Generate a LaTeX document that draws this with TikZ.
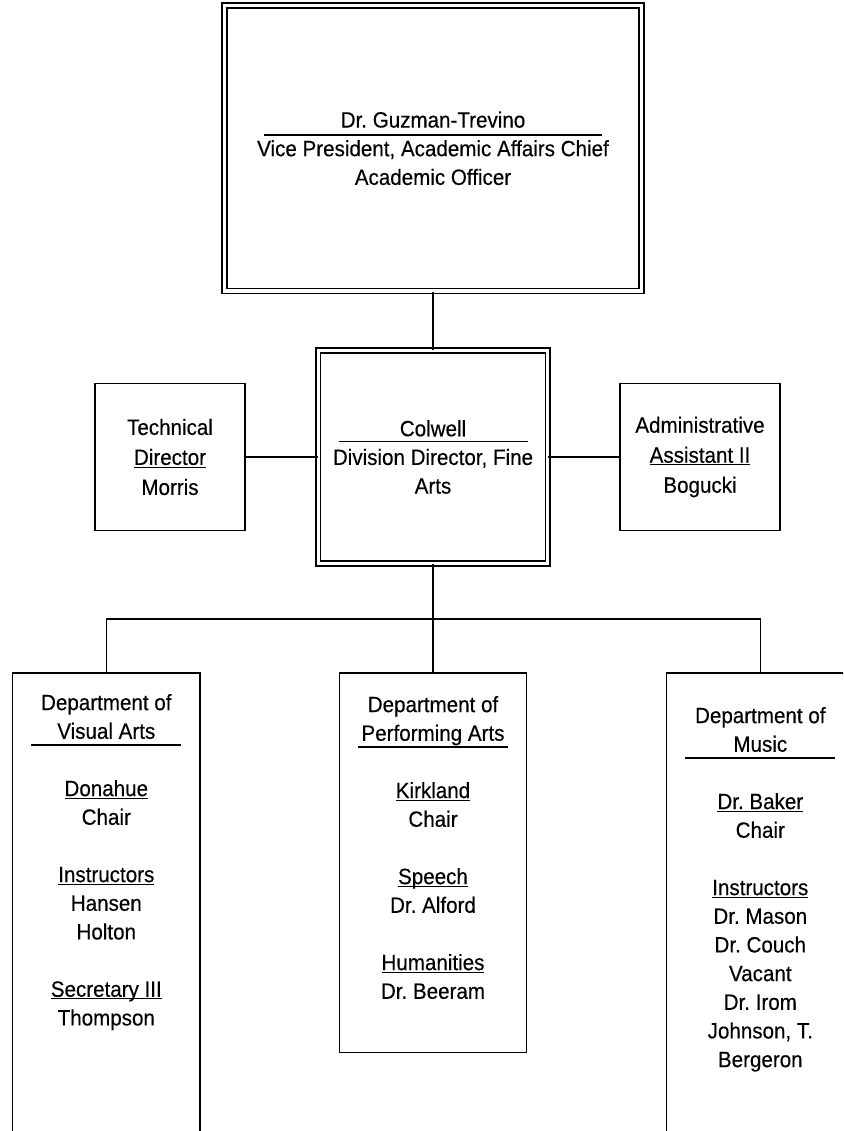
\documentclass[tikz,border=0pt]{standalone}
\usepackage{fontspec}
\setmainfont{Liberation Sans}[FakeStretch=0.93, FakeBold=0.3]
\usepackage{tikz}
\usetikzlibrary{positioning,calc}
\frenchspacing

\newcommand{\ulname}[1]{\setbox0\hbox{#1}\rlap{\rule[-2pt]{\wd0}{0.8pt}}\box0}

\begin{document}
\begin{tikzpicture}[x=0.75pt, y=-0.75pt,
    box/.style={draw, line width=1.1pt, inner sep=0pt},
    dbox/.style={box, double, double distance=2.6pt},
    txt/.style={align=center, font=\fontsize{16.6pt}{21.5pt}\selectfont},
    sidetxt/.style={align=center, font=\fontsize{16.6pt}{22.5pt}\selectfont},
    depttxt/.style={align=center, inner sep=0pt, font=\fontsize{16.6pt}{21.5pt}\selectfont},
    sep/.style={line width=1.1pt}]
    \useasboundingbox (0,0) rectangle (843,1131);
    \clip (0,0) rectangle (843,1131);

    % Vice president
    \node[dbox, txt, minimum width=312.5pt, minimum height=214pt] (vp) at (433,148.3)
        {Dr. Guzman-Trevino\\Vice President, Academic Affairs Chief\\Academic Officer};
    \draw[sep] ([shift={(-169,-13.3)}]vp.center) -- ++(338,0);

    % Division director and staff
    \node[dbox, txt, minimum width=172.1pt, minimum height=159.5pt] (director) at (433,457)
        {Colwell\\Division Director, Fine\\Arts};
    \draw[sep] ([shift={(-94.5,-15.3)}]director.center) -- ++(189,0);
    \node[box, sidetxt, minimum width=112.5pt, minimum height=110pt] (techdir) at (170,457)
        {Technical\\\ulname{Director}\\Morris};
    \node[box, sidetxt, minimum width=120pt, minimum height=110pt] (adminasst) at (700,457)
        {Administrative\\\ulname{Assistant II}\\Bogucki};

    \draw[sep] (vp.south) -- (director.north);
    \draw[sep] (techdir.east) -- (director.west);
    \draw[sep] (director.east) -- (adminasst.west);

    % Departments
    \node[box, minimum width=140.5pt, minimum height=365.25pt] (visualarts) at (106.3,916.5) {};
    \node[box, minimum width=140.5pt, minimum height=284.8pt] (perfarts) at (433,862.8) {};
    \node[box, minimum width=140.5pt, minimum height=365.25pt] (music) at (760.3,916.5) {};

    \node[depttxt, anchor=north] (visualtxt) at (106.3,693.8)
        {Department of\\Visual Arts\\[21.5pt]\ulname{Donahue}\\Chair\\[21.5pt]\ulname{Instructors}\\Hansen\\Holton\\[21.5pt]\ulname{Secretary III}\\Thompson};
    \node[depttxt, anchor=north] (perftxt) at (433,695.8)
        {Department of\\Performing Arts\\[21.5pt]\ulname{Kirkland}\\Chair\\[21.5pt]\ulname{Speech}\\Dr. Alford\\[21.5pt]\ulname{Humanities}\\Dr. Beeram};
    \node[depttxt, anchor=north] (musictxt) at (760.3,706.8)
        {Department of\\Music\\[21.5pt]\ulname{Dr. Baker}\\Chair\\[21.5pt]\ulname{Instructors}\\Dr. Mason\\Dr. Couch\\Vacant\\Dr. Irom\\Johnson, T.\\Bergeron};
    \draw[sep] ([shift={(-75,51.2)}]visualtxt.north) -- ++(150,0);
    \draw[sep] ([shift={(-75,51.2)}]perftxt.north) -- ++(150,0);
    \draw[sep] ([shift={(-75,51.2)}]musictxt.north) -- ++(150,0);

    \coordinate (bus) at (433,619);
    \draw[sep] (director.south) -- (bus);
    \draw[sep] (visualarts.north) |- (bus) -| (music.north);
    \draw[sep] (perfarts.north) -- (bus);

\end{tikzpicture}
\end{document}
